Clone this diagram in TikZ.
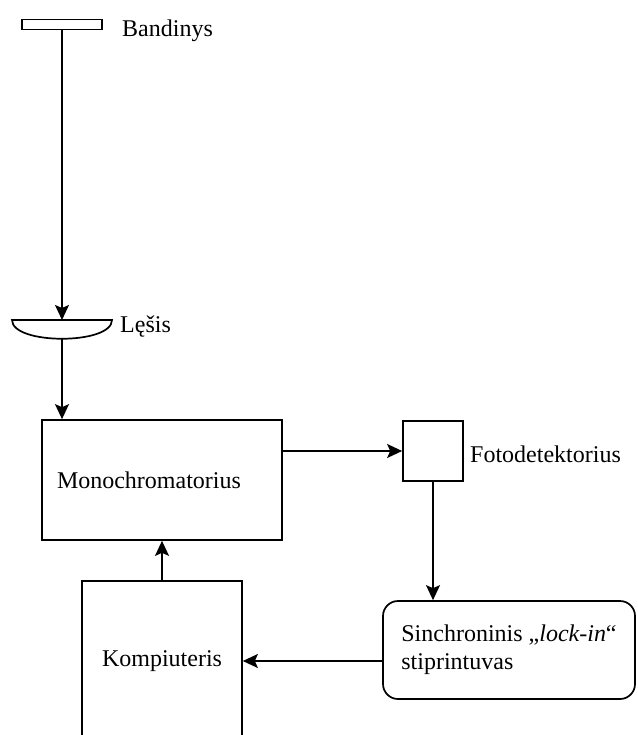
\documentclass[tikz,border=0pt]{standalone}
\usepackage{fontspec}
\setmainfont{Liberation Serif}
\usetikzlibrary{arrows.meta, positioning, calc}

\begin{document}
\begin{tikzpicture}[
  x=1pt, y=-1pt,
  every node/.style={font=\fontsize{24}{28}\selectfont},
  box/.style={draw, line width=1.7pt, rectangle, inner sep=0pt, align=center},
  roundbox/.style={draw, line width=1.7pt, rounded corners=15pt, inner sep=0pt},
  lbl/.style={anchor=base west, inner sep=0pt},
  arrow/.style={-{Stealth[length=15pt, width=14pt, inset=3pt]}, line width=1.7pt}
]
  \useasboundingbox (0,0) rectangle (637,735);
  \clip (0,0) rectangle (637,735);

  % sample and lens
  \node[box, minimum width=80pt, minimum height=10pt] (sample) at (62,24.5) {};
  \node[lbl] (sampleLbl) at (122,37) {Bandinys};

  \draw[line width=1.7pt] (12,320) -- (112,320) .. controls (112,345) and (12,345) .. (12,320) -- cycle;
  \coordinate (lensTop) at (62,320);
  \coordinate (lensBot) at (62,339);
  \node[lbl] (lensLbl) at (120,332) {Lęšis};

  % main blocks
  \node[box, minimum width=240pt, minimum height=120pt, text width=210pt, inner xsep=15pt, align=left] (mono) at (162,480) {Monochromatorius};
  \node[box, minimum width=60pt, minimum height=60pt] (det) at (433,451) {};
  \node[lbl] (detLbl) at (470,462) {Fotodetektorius};

  \node[roundbox, minimum width=252pt, minimum height=98pt, align=left] (lockin) at (509,650) {Sinchroninis „\textit{lock-in}“\\stiprintuvas};
  \node[box, minimum width=160pt, minimum height=160pt] (komp) at (162,661) {Kompiuteris};

  \draw[arrow] (sample) -- (lensTop);
  \draw[arrow] (lensBot) -- (lensBot |- mono.north);
  \draw[arrow] (det.west -| mono.east) -- (det.west);
  \draw[arrow] (det.south) -- (det.south |- lockin.north);
  \draw[arrow] (lockin.west |- komp.east) -- (komp.east);
  \draw[arrow] (komp.north) -- (komp.north |- mono.south);
\end{tikzpicture}
\end{document}
